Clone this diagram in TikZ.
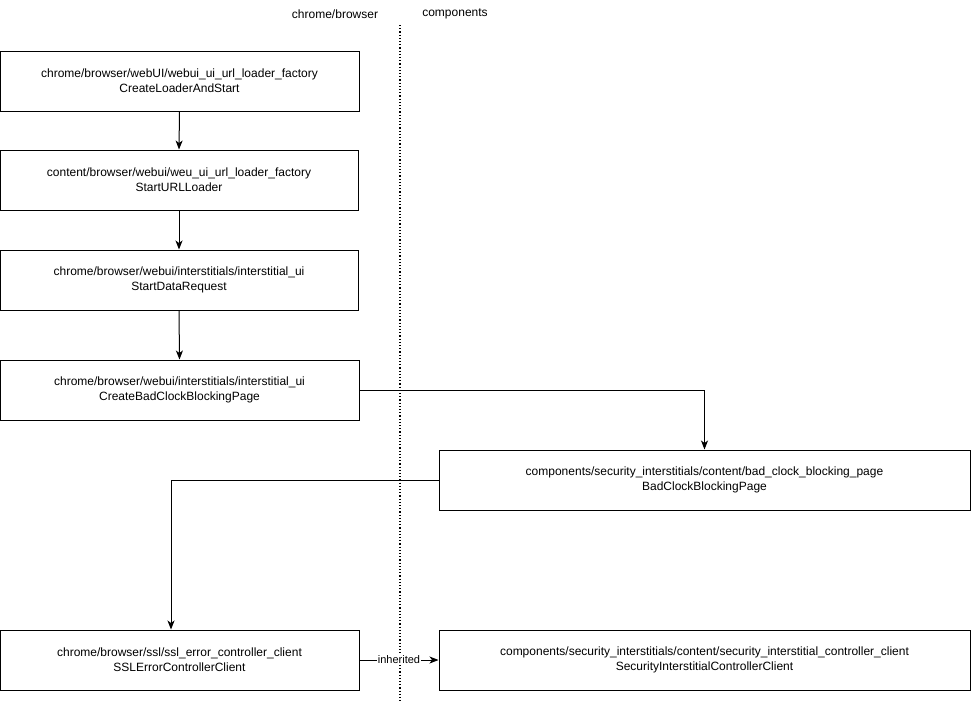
\documentclass[tikz,border=0pt]{standalone}
\usepackage{fontspec}
\setmainfont{Liberation Sans}
\usetikzlibrary{arrows.meta}
\begin{document}
\begin{tikzpicture}[x=1pt,y=-1pt,
  box/.style={draw, line width=1pt, minimum height=60pt, inner sep=0pt, align=center, font=\fontsize{12}{15}\selectfont},
  conn/.style={line width=1pt, -{Stealth[length=9pt,width=7pt,inset=2.5pt]}},
  lbl/.style={font=\fontsize{12}{15}\selectfont}]
\useasboundingbox (0,0) rectangle (971,702);
\fill[white] (0,0) rectangle (971,702);
\draw[line width=1.2pt, dotted] (400,25) -- (400,702);
\node[lbl] (lc) at (335,14) {chrome/browser};
\node[lbl] (lp) at (455,14) {components};
\node[box, minimum width=359pt] (b1) at (179.5,81) {chrome/browser/webUI/webui\_ui\_url\_loader\_factory\\CreateLoaderAndStart};
\node[box, minimum width=358pt] (b2) at (179,180) {content/browser/webui/weu\_ui\_url\_loader\_factory\\StartURLLoader};
\node[box, minimum width=358pt] (b3) at (179,280) {chrome/browser/webui/interstitials/interstitial\_ui\\StartDataRequest};
\node[box, minimum width=359pt] (b4) at (179.5,390) {chrome/browser/webui/interstitials/interstitial\_ui\\CreateBadClockBlockingPage};
\node[box, minimum width=531pt] (b5) at (704.5,480) {components/security\_interstitials/content/bad\_clock\_blocking\_page\\BadClockBlockingPage};
\node[box, minimum width=359pt] (b6) at (179.5,660) {chrome/browser/ssl/ssl\_error\_controller\_client\\SSLErrorControllerClient};
\node[box, minimum width=531pt] (b7) at (704.5,660) {components/security\_interstitials/content/security\_interstitial\_controller\_client\\SecurityInterstitialControllerClient};
\coordinate (bend) at (171,480);
\draw[conn] (b1.south) -- (b2.north);
\draw[conn] (b2.south) -- (b3.north);
\draw[conn] (b3.south) -- (b4.north);
\draw[conn] (b4.east) -| (b5.north);
\draw[conn] (b5.west) -- (bend) -- (bend |- b6.north);
\draw[conn] (b6.east) -- node[lbl, fill=white, inner sep=1pt, font=\fontsize{11}{13}\selectfont] {inherited} (b7.west);
\end{tikzpicture}
\end{document}
